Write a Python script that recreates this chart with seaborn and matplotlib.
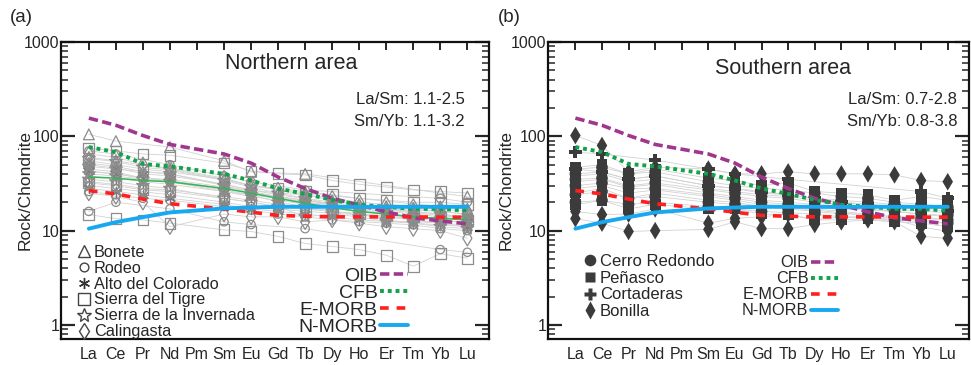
import numpy as np
import pandas as pd
import matplotlib
matplotlib.use("Agg")
import matplotlib.pyplot as plt
from matplotlib.lines import Line2D
from matplotlib.ticker import FixedLocator, LogLocator, NullFormatter, FuncFormatter
import seaborn as sns

sns.set_theme(style="ticks")
plt.rcParams["font.family"] = ["Liberation Sans", "DejaVu Sans"]

# ---------------- data ----------------
elements = ["La", "Ce", "Pr", "Nd", "Pm", "Sm", "Eu", "Gd", "Tb", "Dy", "Ho", "Er", "Tm", "Yb", "Lu"]
ree = ["La", "Ce", "Pr", "Nd", "Sm", "Eu", "Gd", "Tb", "Dy", "Ho", "Er", "Tm", "Yb", "Lu"]  # no Pm

oib = [156, 131, 102, 82, 65, 52, 37, 28, 22, 18.7, 15.8, 13.7, 12.7, 11.8]
cfb = [77, 68, 51, 48, 40, 34, 28, 24.5, 21.2, 18.8, 17.9, 17.0, 17.0, 16.3]
emorb = [26.6, 24.5, 21.6, 19.3, 17.0, 15.7, 14.5, 14.2, 14.0, 14.0, 14.0, 14.0, 13.9, 13.9]
nmorb = [10.5, 12.3, 13.9, 15.6, 17.2, 17.6, 17.9, 17.9, 17.9, 17.8, 17.9, 17.9, 17.9, 17.9]
north_mean = [37, 36, 34, 33, 28, 25, 22, 19.5, 17.5, 16, 15, 14, 13.5, 13]

N = None
# Northern area samples
bonete = [
    [105, 89, N, 77, 55, 42, N, 40, N, N, N, N, 25, 23],
    [60, 55, N, 45, 35, 30, N, 25, N, N, N, N, 18, 17],
    [52, 48, 42, 40, 31, 27, 25, 24, 21, 19, 18, 17, 16, 15],
]
rodeo = [
    [16, 20, N, 17, 12.4, 11.6, N, 10.5, N, N, N, N, 6.3, 5.9],
    [45, 42, 36, 33, 26, 24, 22, 20, 18, 17, 16, 15, 14, 13],
    [30, 28, N, 24, 20, 18, N, 16, N, N, N, N, 13, 12],
    [70, 65, N, 50, 38, 33, N, 27, N, N, N, N, 22, 20],
    [26, 24, 22, 21, 18, 16.5, 15, 14, 13, 12.5, 12, 11.5, 10.5, 10],
]
alto = [
    [38, 36, 33, 31, 26, 23, 21, 19, 18, 16, 15, 14, 13, 12],
    [50, 46, 40, 38, 31, 27, 24, 22, 20, 18, 17, 16, 15, 14],
    [28, 26, 24, 22, 19, 17, 16, 15, 14, 13, 12.5, 12, 11.5, 11],
    [43, 40, 36, 35, 29, 26, 23, 21, 19, 17.5, 16.5, 15.5, 14.5, 13.5],
]
tigre = [
    [14.8, 13.4, 13, 12, 10.2, 9.8, 8.7, 7.3, 6.8, 6.3, 5.5, 4.2, 5.7, 5.1],
    [75, 70, 65, 63, 52, 43, 40, 39, 34, 31, 29, 27, 26, 25],
    [55, 50, 45, 42, 35, 30, 28, 26, 24, 22, 21, 20, 20, 19],
    [32, 30, 27, 26, 22, 20, 18, 17, 16, 15, 14.5, 14, 13.5, 13],
]
invernada = [
    [40, 38, 35, 33, 27, 24, 20, 18, 16, 15, 13, 12, 11, 10.5],
    [35, 33, 30, 28, 22, 20, 18, 14, 15, 14, 12.5, 12.5, 12, 11],
    [48, 45, N, 40, 30, 26, N, 20, N, N, N, N, 15, 13.5],
    [58, 54, 47, 44, 34, 29, 25, 22, 19, 17, 15, 14, 13, 12],
]
calingasta = [
    [25, 23, 20, 11, 15, 14, 14, 12.4, 13, 12, 11, 10.5, 10, 8.3],
    [65, 60, 50, 46, 36, 30, 27, 24, 22, 20, 19, 18, 17, 16],
    [42, 40, 36, 34, 28, 25, 23, 21, 19, 18, 17, 16.5, 16, 15],
    [33, 31, 28, 27, 23, 21, 19, 17, 16, 15, 14, 13, 12, 11.5],
]

# Southern area samples
cerro = [
    [40, 42, 35, 38, 30, 28, 25, 24, 22, 21, 20, 19, 18, 17],
    [30, 32, 28, 28, 24, 22, 20, 19, 18, 17, 16.5, 16, 15, 14.5],
    [24, 26, 22, 23, 20, 19, 18, 17, 16, 15, 15, 14, 13.5, 13],
    [35, 36, 30, 32, 27, 25, 23, 22, 20, 19, 18, 17, 16, 15.5],
    [20, 21, 19, 20, 18, 17, 16, 15.5, 15, 14, 13.5, 13, 12.5, 12],
    [45, 47, 40, 42, 33, 30, 28, 27, 25, 23, 22, 20, 19, 18],
]
penasco = [
    [47, 50, 40, 45, 36, 34, 30, 32, 26, 25, 24, 21, 23, 21],
    [28, 30, 25, 27, 23, 21, 19, 18, 17, 16, 15, 14, 14, 13],
    [18.8, 21, 17, 19, 17, 17, 15, 14.8, 13, 13, 13.4, 12.4, 12, 11],
    [38, 40, 33, 35, 28, 26, 24, 23, 21, 20, 19, 18, 17.5, 17],
    [25, 28, 22, 25, 21, 20, 18, 17.5, 16.5, 15.5, 14.5, 13.5, 13, 12],
    [33, 35, 29, 31, 25, 23, 21, 20, 19, 18, 17, 16, 15, 14],
]
cortaderas = [
    [68, 65, N, 56, 45, 40, N, 35, N, N, N, N, 26, 22],
    [45, 42, 35, 38, 30, 28, 26, 24, 22, 20, 19, 18, 17, 16],
]
bonilla = [
    [102, 80, 42, 47, 45, 40, 40, 42, 40, 40, 40, 39, 34, 33],
    [13.4, 12, 9.8, 10, 10.3, 12.4, 10.5, 10.5, 11.6, 12.4, 13, 12.4, 8.7, 8.3],
    [16, 14.8, 15, 17, 12, 13.5, 14, 15, 13, 14, 14, 13, 11, 9.8],
]

north_groups = [("Bonete", bonete, "^", 60), ("Rodeo", rodeo, "o", 36),
                ("Alto del Colorado", alto, (6, 2, 0), 55), ("Sierra del Tigre", tigre, "s", 60),
                ("Sierra de la Invernada", invernada, "*", 90), ("Calingasta", calingasta, "d", 60)]
south_groups = [("Cerro Redondo", cerro, "o", 70), ("Peñasco", penasco, "s", 60),
                ("Cortaderas", cortaderas, "P", 80), ("Bonilla", bonilla, "d", 80)]

pos = {e: i for i, e in enumerate(elements)}
xpos = [pos[e] for e in ree]


def long_df(groups, area):
    rows = []
    for gname, samples, _, _ in groups:
        for k, s in enumerate(samples):
            for e, v in zip(ree, s):
                if v is not None:
                    rows.append(dict(area=area, group=gname, sample=f"{gname}-{k}", x=pos[e], value=v))
    return pd.DataFrame(rows)


ref_df = pd.DataFrame({"x": xpos, "OIB": oib, "CFB": cfb, "E-MORB": emorb, "N-MORB": nmorb,
                       "mean": north_mean})

ref_styles = {
    "OIB": dict(color="#a0378f", ls=(0, (2.6, 1.2)), lw=2.6),
    "CFB": dict(color="#12a24a", ls=(0, (1.0, 1.0)), lw=2.8),
    "E-MORB": dict(color="#ff1f1f", ls=(0, (2.4, 2.2)), lw=2.6),
    "N-MORB": dict(color="#18a8ef", ls="-", lw=2.8),
}

fig = plt.figure(figsize=(9.71, 3.65), dpi=100)
axA = fig.add_axes([61 / 971, 1 - 339 / 365, 428 / 971, 297 / 365])
axB = fig.add_axes([548 / 971, 1 - 339 / 365, 421 / 971, 297 / 365])


def style_axis(ax, label_x):
    ax.set_yscale("log")
    ax.set_ylim(0.71, 1000)
    ax.set_xlim(-1.03, 14.8)
    ax.set_xticks(range(len(elements)))
    ax.set_xticklabels(elements, fontsize=11.5)
    ax.tick_params(axis="x", bottom=False, top=True, labelbottom=True, labeltop=False,
                   direction="in", length=6, width=1.4, pad=6)
    ax.yaxis.set_major_locator(FixedLocator([1, 10, 100, 1000]))
    ax.yaxis.set_minor_locator(LogLocator(base=10, subs=np.arange(2, 10), numticks=20))
    ax.yaxis.set_minor_formatter(NullFormatter())
    ax.yaxis.set_major_formatter(FuncFormatter(lambda v, p: f"{v:g}"))
    ax.tick_params(axis="y", which="major", left=True, right=True, direction="in",
                   length=10, width=1.6, labelsize=11.5, pad=1)
    ax.tick_params(axis="y", which="minor", left=True, right=True, direction="in",
                   length=5, width=1.1)
    for sp in ax.spines.values():
        sp.set_linewidth(1.6)
        sp.set_color("#111111")
        sp.set_visible(True)
    ax.set_xlabel("")
    ax.set_ylabel("Rock/Chondrite", fontsize=12.5)
    ax.yaxis.set_label_coords(label_x, 0.5)


def draw_panel(ax, groups, area, open_markers):
    df = long_df(groups, area)
    sns.lineplot(data=df, x="x", y="value", units="sample", estimator=None, sort=False,
                 color="#d2d2d2", lw=0.6, ax=ax, zorder=1, legend=False)
    for gname, _, mk, size in groups:
        sub = df[df["group"] == gname]
        if open_markers:
            if isinstance(mk, tuple):
                sns.scatterplot(data=sub, x="x", y="value", marker=mk, s=size, color="#7a7a7a",
                                linewidth=0.9, ax=ax, zorder=2, legend=False)
            else:
                sns.scatterplot(data=sub, x="x", y="value", marker=mk, s=size, facecolors="none",
                                edgecolor="#8c8c8c", linewidth=0.9, ax=ax, zorder=2, legend=False)
        else:
            sns.scatterplot(data=sub, x="x", y="value", marker=mk, s=size, color="#3b3b3b",
                            edgecolor="none", linewidth=0, ax=ax, zorder=2, legend=False)
    for name, st in ref_styles.items():
        sns.lineplot(data=ref_df, x="x", y=name, color=st["color"], linestyle=st["ls"],
                     lw=st["lw"], ax=ax, zorder=4, legend=False, sort=False)


draw_panel(axA, north_groups, "N", True)
sns.lineplot(data=ref_df, x="x", y="mean", color="#37b556", lw=1.1, ax=axA, zorder=3,
             legend=False, sort=False)
draw_panel(axB, south_groups, "S", False)
style_axis(axA, (33 - 61) / 428)
style_axis(axB, (514 - 548) / 421)

# texts
axA.text(0.537, 0.928, "Northern area", transform=axA.transAxes, ha="center", va="center", fontsize=15.5)
axA.text(0.944, 0.805, "La/Sm: 1.1-2.5", transform=axA.transAxes, ha="right", va="center", fontsize=12)
axA.text(0.944, 0.731, "Sm/Yb: 1.1-3.2", transform=axA.transAxes, ha="right", va="center", fontsize=12)
axB.text(0.558, 0.912, "Southern area", transform=axB.transAxes, ha="center", va="center", fontsize=15.5)
axB.text(0.972, 0.805, "La/Sm: 0.7-2.8", transform=axB.transAxes, ha="right", va="center", fontsize=12)
axB.text(0.972, 0.731, "Sm/Yb: 0.8-3.8", transform=axB.transAxes, ha="right", va="center", fontsize=12)
fig.text(10 / 971, 1 - 18 / 365, "(a)", ha="left", va="center", fontsize=13.5)
fig.text(498 / 971, 1 - 18 / 365, "(b)", ha="left", va="center", fontsize=13.5)

# legends
hA = []
for gname, _, mk, size in north_groups:
    if isinstance(mk, tuple):
        hA.append(Line2D([], [], ls="none", marker=mk, ms=8, color="#333333", mew=1.0))
    else:
        hA.append(Line2D([], [], ls="none", marker=mk, ms=np.sqrt(size) * 1.05, mfc="none",
                         mec="#444444", mew=1.0))
legA = axA.legend(hA, [g[0] for g in north_groups], loc="upper left", bbox_to_anchor=(0.035, 0.318),
                  frameon=False, fontsize=11.7, borderpad=0, handletextpad=0.1, labelspacing=0.06,
                  handlelength=1.0, borderaxespad=0)
axA.add_artist(legA)
refH = [Line2D([], [], color=st["color"], ls=st["ls"], lw=st["lw"]) for st in ref_styles.values()]
axA.legend(refH, list(ref_styles.keys()), loc="lower right", bbox_to_anchor=(0.81, 0.01),
           frameon=False, fontsize=14, borderpad=0, handletextpad=0.15, labelspacing=-0.03,
           handlelength=1.4, markerfirst=False, borderaxespad=0)

hB = [Line2D([], [], ls="none", marker=mk, ms=np.sqrt(size) * 1.0, color="#3b3b3b", mec="none")
      for _, _, mk, size in south_groups]
legB = axB.legend(hB, [g[0] for g in south_groups], loc="upper left", bbox_to_anchor=(0.08, 0.287),
                  frameon=False, fontsize=12, borderpad=0, handletextpad=0.1, labelspacing=0.11,
                  handlelength=1.0, borderaxespad=0)
axB.add_artist(legB)
axB.legend(refH, list(ref_styles.keys()), loc="lower right", bbox_to_anchor=(0.69, 0.07),
           frameon=False, fontsize=11.7, borderpad=0, handletextpad=0.15, labelspacing=0.06,
           handlelength=1.7, markerfirst=False, borderaxespad=0)

fig.savefig("out.png", dpi=100)
